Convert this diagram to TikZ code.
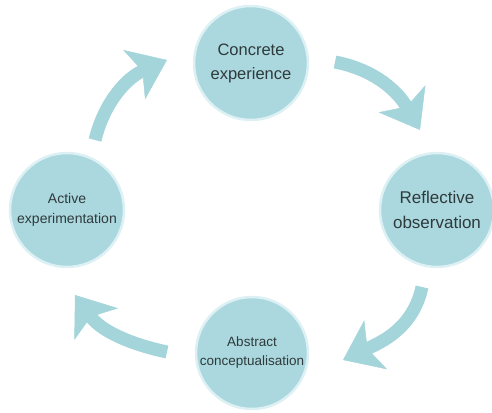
\documentclass[tikz,border=0pt]{standalone}
\usepackage{fontspec}
\setmainfont{Liberation Sans}
\usepackage{tikz}
\usetikzlibrary{arrows.meta}
\definecolor{stagefill}{HTML}{ABD8DE}
\definecolor{stagering}{HTML}{DDF1F4}
\definecolor{cyclecol}{HTML}{A4D5DB}
\definecolor{stagetext}{HTML}{2E3A3C}
\tikzset{
  stage/.style={circle, fill=stagefill, draw=stagering, line width=2.5pt,
    minimum size=114pt, inner sep=0pt, align=center, text=stagetext},
  cyclearrow/.style={draw=cyclecol, line width=13pt,
    -{Stealth[length=36pt, width=54pt, inset=9pt, line width=0.5pt, fill=cyclecol]}}
}
\begin{document}
\begin{tikzpicture}[x=1pt,y=1pt]
          \useasboundingbox (0,0) rectangle (492,412);
          \node [stage, font=\fontsize{16.5}{24}\selectfont] (ce) at (251,349) {Concrete\\experience};
          \node [stage, font=\fontsize{17}{25}\selectfont] (ro) at (437,202) {Reflective\\observation};
          \node [stage, font=\fontsize{13.5}{19}\selectfont, minimum size=112pt] (ac) at (252,59) {Abstract\\conceptualisation};
          \node [stage, font=\fontsize{14}{20}\selectfont] (ae) at (67,202) {Active\\experimentation};
          \coordinate (ce-out) at (335,350);
          \coordinate (ro-in) at (420,282);
          \coordinate (ro-out) at (422,125);
          \coordinate (ac-in) at (343,52);
          \coordinate (ac-out) at (167,60);
          \coordinate (ae-in) at (75,117);
          \coordinate (ae-out) at (95,272);
          \coordinate (ce-in) at (167,352);
          \draw [cyclearrow] (ce-out) to [out=-11, in=120] (ro-in);
          \draw [cyclearrow] (ro-out) to [out=-102, in=25] (ac-in);
          \draw [cyclearrow] (ac-out) to [out=168, in=-54] (ae-in);
          \draw [cyclearrow] (ae-out) to [out=76, in=-156] (ce-in);
        \end{tikzpicture}
\end{document}
